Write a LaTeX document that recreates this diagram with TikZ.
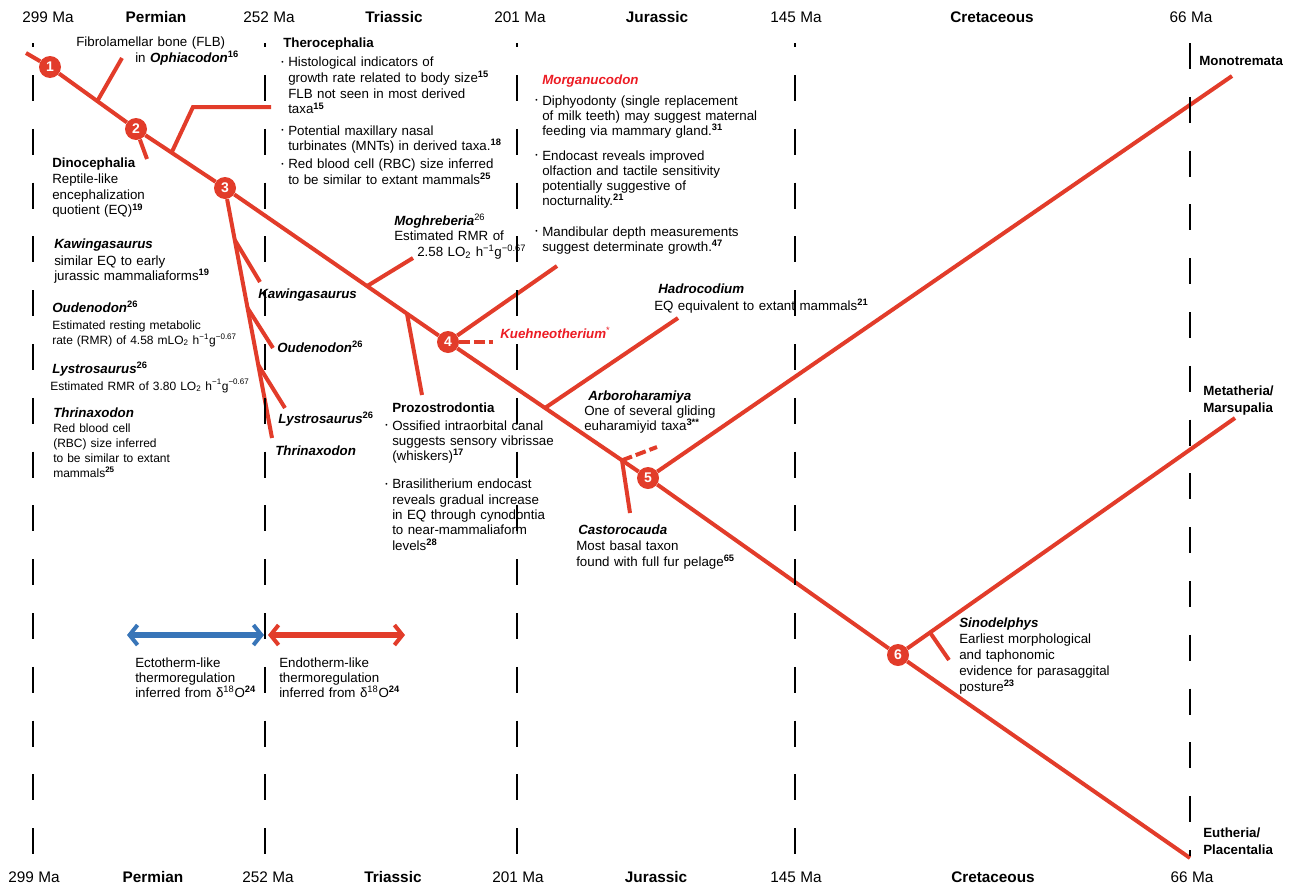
\documentclass[tikz,border=0pt]{standalone}
\usepackage{fontspec}
\setmainfont{Liberation Sans}
\usepackage{graphicx}
\usepackage{xcolor}
\usetikzlibrary{arrows.meta,calc,backgrounds}

\definecolor{treered}{RGB}{226,60,42}
\definecolor{namered}{RGB}{236,28,36}
\definecolor{ectoblue}{RGB}{56,117,184}

\newcommand{\rf}[1]{\textsuperscript{\textbf{#1}}}
\newcommand{\tx}[1]{\textbf{\textit{#1}}}
\newcommand{\bul}{\leavevmode\llap{\raisebox{.3ex}{\scalebox{.5}{\textbullet}}\hspace{3.5pt}}}

\begin{document}
\begin{tikzpicture}[x=0.75pt,y=-0.75pt,
  branch/.style={treered,line width=3pt},
  ghost/.style={treered,line width=3pt,dash pattern=on 8pt off 3pt},
  numdot/.style={circle,fill=treered,text=white,inner sep=0pt,minimum size=16.5pt,
    font=\bfseries\fontsize{10.5}{12}\selectfont},
  timeline/.style={line width=1.4pt,dash pattern=on 19.5pt off 20.85pt},
  era/.style={anchor=base,font=\fontsize{11.5}{13}\selectfont},
  eraname/.style={anchor=base,font=\bfseries\fontsize{11.5}{13}\selectfont},
  note/.style={anchor=base west,inner sep=0pt,align=left,text width=190pt,
    font=\fontsize{10}{11.8}\selectfont},
  small note/.style={note,font=\fontsize{9}{11.3}\selectfont},
  clade/.style={note,font=\bfseries\fontsize{10}{12.75}\selectfont},
  thermo/.style={line width=4.5pt,
    {Straight Barb[length=6pt,width=15pt,line width=3pt]}-{Straight Barb[length=6pt,width=15pt,line width=3pt]}}]
\useasboundingbox (0,0) rectangle (1291,885);

% eras, top and bottom
\node[era] (top299) at (48,22) {299 Ma};
\node[eraname] (topperm) at (156,22) {Permian};
\node[era] (top252) at (269,22) {252 Ma};
\node[eraname] (toptria) at (394,22) {Triassic};
\node[era] (top201) at (520,22) {201 Ma};
\node[eraname] (topjura) at (657,22) {Jurassic};
\node[era] (top145) at (796,22) {145 Ma};
\node[eraname] (topcret) at (992,22) {Cretaceous};
\node[era] (top66) at (1191,22) {66 Ma};
\node[era] (bot299) at (34,882) {299 Ma};
\node[eraname] (botperm) at (153,882) {Permian};
\node[era] (bot252) at (268,882) {252 Ma};
\node[eraname] (bottria) at (393,882) {Triassic};
\node[era] (bot201) at (518,882) {201 Ma};
\node[eraname] (botjura) at (656,882) {Jurassic};
\node[era] (bot145) at (796,882) {145 Ma};
\node[eraname] (botcret) at (993,882) {Cretaceous};
\node[era] (bot66) at (1192,882) {66 Ma};

% numbered nodes of the tree
\node[numdot] (n1) at (50,67) {1};
\node[numdot] (n2) at (136,129) {2};
\node[numdot] (n3) at (225,188) {3};
\node[numdot] (n4) at (448,342) {4};
\node[numdot] (n5) at (648,478) {5};
\node[numdot] (n6) at (898,655) {6};

\coordinate (root) at (26,53);
\coordinate (flbJ) at ($(n1)!0.55!(n2)$);
\coordinate (flbE) at (122,58);
\coordinate (dinoE) at (147,159);
\coordinate (theroJ) at ($(n2)!0.4!(n3)$);
\coordinate (theroK) at (193,107);
\coordinate (theroE) at (271,107);
\coordinate (thrinE) at (272,438);
\coordinate (kawJ) at ($(n3)!0.208!(thrinE)$);
\coordinate (kawE) at (260,282);
\coordinate (oudJ) at ($(n3)!0.48!(thrinE)$);
\coordinate (oudE) at (273,348);
\coordinate (lysJ) at ($(n3)!0.708!(thrinE)$);
\coordinate (lysE) at (285,408);
\coordinate (moghJ) at ($(n3)!0.637!(n4)$);
\coordinate (moghE) at (413,258);
\coordinate (prozJ) at ($(n3)!0.816!(n4)$);
\coordinate (prozE) at (422,395);
\coordinate (morgE) at (557,266);
\coordinate (kuehE) at (493,342);
\coordinate (hadroJ) at ($(n4)!0.485!(n5)$);
\coordinate (hadroE) at (678,318);
\coordinate (castJ) at ($(n4)!0.87!(n5)$);
\coordinate (castE) at (630,513);
\coordinate (arboE) at (657,447);
\coordinate (monoE) at (1232,76);
\coordinate (metaE) at (1235,418);
\coordinate (sinoJ) at ($(n6)!0.095!(metaE)$);
\coordinate (sinoE) at (949,660);
\coordinate (euthE) at (1190,858);

\begin{scope}[on background layer]
\draw[branch] (root) -- (n1) -- (n2) -- (n3) -- (n4) -- (n5) -- (n6) -- (euthE);
\draw[branch] (flbJ) -- (flbE);
\draw[branch] (n2) -- (dinoE);
\draw[branch] (theroJ) -- (theroK) -- (theroE);
\draw[branch] (n3) -- (thrinE);
\draw[branch] (kawJ) -- (kawE);
\draw[branch] (oudJ) -- (oudE);
\draw[branch] (lysJ) -- (lysE);
\draw[branch] (moghJ) -- (moghE);
\draw[branch] (prozJ) -- (prozE);
\draw[branch] (n4) -- (morgE);
\draw[ghost] (n4) -- (kuehE);
\draw[branch] (hadroJ) -- (hadroE);
\draw[branch] (castJ) -- (castE);
\draw[ghost] (castJ) -- (arboE);
\draw[branch] (n5) -- (monoE);
\draw[branch] (n6) -- (metaE);
\draw[branch] (sinoJ) -- (sinoE);
\end{scope}

% notes
\node[note] (flbA) at (76,46) {Fibrolamellar bone (FLB)};
\node[note] (flbB) at (135,62) {in \tx{Ophiacodon}\rf{16}};
\node[note] (thero) at (288,47) {\hspace*{-3.75pt}\textbf{Therocephalia}\\[3pt]
  \bul Histological indicators of\\
  growth rate related to body size\rf{15}\\
  FLB not seen in most derived\\
  taxa\rf{15}\\[4pt]
  \bul Potential maxillary nasal\\
  turbinates (MNTs) in derived taxa.\rf{18}\\[1.7pt]
  \bul Red blood cell (RBC) size inferred\\
  to be similar to extant mammals\rf{25}};
\node[note] (dino) at (52,167) {\textbf{Dinocephalia}\\[0.5pt]
  Reptile-like\\ encephalization\\ quotient (EQ)\rf{19}};
\node[note] (kawL) at (54,248) {\tx{Kawingasaurus}\\[1pt]
  similar EQ to early\\ jurassic mammaliaforms\rf{19}};
\node[small note] (oudL) at (52,312) {{\fontsize{10}{12}\selectfont\tx{Oudenodon}\rf{26}}\\[1.5pt]
  Estimated resting metabolic\\
  rate (RMR) of 4.58 mLO\textsubscript{2} h\textsuperscript{−1}g\textsuperscript{−0.67}};
\node[small note] (lysL) at (52,373) {{\fontsize{10}{12}\selectfont\tx{Lystrosaurus}\rf{26}}\\[1.5pt]
  \hspace*{-1.5pt}Estimated RMR of 3.80 LO\textsubscript{2} h\textsuperscript{−1}g\textsuperscript{−0.67}};
\node[small note] (thrinL) at (53,417) {{\fontsize{10}{12}\selectfont\tx{Thrinaxodon}}\\
  Red blood cell\\ (RBC) size inferred\\ to be similar to extant\\ mammals\rf{25}};
\node[note] (kawR) at (258,298) {\tx{Kawingasaurus}};
\node[note] (oudR) at (277,352) {\tx{Oudenodon}\rf{26}};
\node[note] (lysR) at (278,423) {\tx{Lystrosaurus}\rf{26}};
\node[note] (thrinR) at (275,455) {\tx{Thrinaxodon}};
\node[note] (mogh) at (394,225) {\tx{Moghreberia}\textsuperscript{26}\\
  Estimated RMR of\\
  \hspace*{17.25pt}2.58 LO\textsubscript{2} h\textsuperscript{−1}g\textsuperscript{−0.67}};
\node[note,font=\fontsize{10}{11.5}\selectfont] (proz) at (392,412) {\textbf{Prozostrodontia}\\[2pt]
  \bul Ossified intraorbital canal\\
  suggests sensory vibrissae\\
  (whiskers)\rf{17}\\[9.5pt]
  \bul Brasilitherium endocast\\
  reveals gradual increase\\
  in EQ through cynodontia\\
  to near-mammaliaform\\
  levels\rf{28}};
\node[note,font=\fontsize{10}{11.25}\selectfont] (morg) at (542,84) {\textcolor{namered}{\tx{Morganucodon}}\\[4.5pt]
  \bul Diphyodonty (single replacement\\
  of milk teeth) may suggest maternal\\
  feeding via mammary gland.\rf{31}\\[7.5pt]
  \bul Endocast reveals improved\\
  olfaction and tactile sensitivity\\
  potentially suggestive of\\
  nocturnality.\rf{21}\\[12pt]
  \bul Mandibular depth measurements\\
  suggest determinate growth.\rf{47}};
\node[note,text=namered] (kueh) at (500,338) {\tx{Kuehneotherium}\textsuperscript{*}};
\node[note] (hadro) at (658,293) {\tx{Hadrocodium}\\[1pt]
  \hspace*{-3pt}EQ equivalent to extant mammals\rf{21}};
\node[note,font=\fontsize{10}{11.25}\selectfont] (arbo) at (588,400) {\tx{Arboroharamiya}\\
  \hspace*{-3pt}One of several gliding\\
  \hspace*{-3pt}euharamiyid taxa\rf{3**}};
\node[note,font=\fontsize{10}{12}\selectfont] (cast) at (578,534) {\tx{Castorocauda}\\
  \hspace*{-1.5pt}Most basal taxon\\
  \hspace*{-1.5pt}found with full fur pelage\rf{65}};
\node[note,font=\fontsize{10}{12}\selectfont] (sino) at (959,627) {\tx{Sinodelphys}\\
  Earliest morphological\\ and taphonomic\\ evidence for parasaggital\\ posture\rf{23}};
\node[clade] (mono) at (1199,65) {Monotremata};
\node[clade] (meta) at (1203,395) {Metatheria/\\ Marsupalia};
\node[clade] (euth) at (1203,837) {Eutheria/\\ Placentalia};

% thermoregulation
\coordinate (ectoL) at (127,635);
\coordinate (ectoR) at (264,635);
\coordinate (endoL) at (268,635);
\coordinate (endoR) at (405,635);
\draw[thermo,ectoblue] (ectoL) -- (ectoR);
\draw[thermo,treered] (endoL) -- (endoR);
\node[note,font=\fontsize{10}{11.25}\selectfont] (ecto) at (135,667) {Ectotherm-like\\
  thermoregulation\\ inferred from δ\textsuperscript{18}O\rf{24}};
\node[note,font=\fontsize{10}{11.25}\selectfont] (endo) at (279,667) {Endotherm-like\\
  thermoregulation\\ inferred from δ\textsuperscript{18}O\rf{24}};

% time boundaries
\draw[timeline,dash phase=16.35pt] (33,43) -- (33,854);
\draw[timeline,dash phase=16.35pt] (265,43) -- (265,854);
\draw[timeline,dash phase=16.35pt] (517,43) -- (517,854);
\draw[timeline,dash phase=16.35pt] (795,43) -- (795,854);
\draw[timeline] (1190,43) -- (1190,856);
\end{tikzpicture}
\end{document}
